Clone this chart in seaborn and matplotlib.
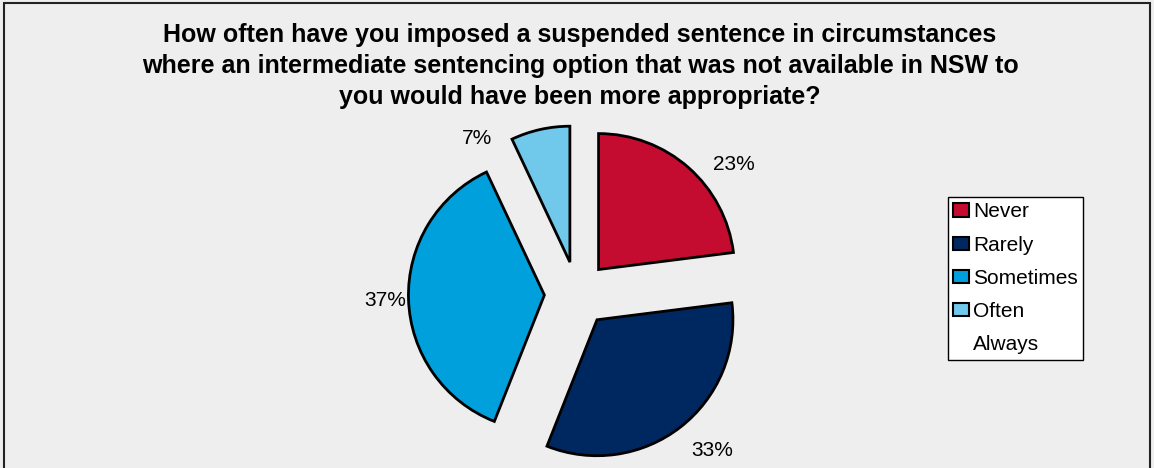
import matplotlib
matplotlib.use("Agg")
import numpy as np
import matplotlib.pyplot as plt
import matplotlib.patches as mpatches
import seaborn as sns

# data
categories = ["Never", "Rarely", "Sometimes", "Often", "Always"]
shares = [23, 33, 37, 7, 0]
colors = ["#C40C30", "#002860", "#00A0DC", "#70C8EA", "#FFFFFF"]
title = ("How often have you imposed a suspended sentence in circumstances\n"
         "where an intermediate sentencing option that was not available in NSW to\n"
         "you would have been more appropriate?")

sns.set_theme(style="white")
plt.rcParams['font.family'] = ['Liberation Sans', 'DejaVu Sans']

fig = plt.figure(figsize=(11.54, 4.68), dpi=100)
fig.patch.set_facecolor("#EEEEEE")

# outer border
fig.patches.append(mpatches.Rectangle((4 / 1154, -0.02), 1146 / 1154, 1 - 3 / 468 + 0.02,
                                      transform=fig.transFigure, fill=False,
                                      edgecolor="#222222", linewidth=1.5))

ax = fig.add_axes([403 / 1154, 0, 348 / 1154, 348 / 468])
ax.set_facecolor("#EEEEEE")

vals = [v for v in shares if v > 0]
cols = colors[:len(vals)]
wedges, texts = ax.pie(vals, colors=cols, startangle=90, counterclock=False,
                       explode=[0.24] * len(vals), radius=1,
                       labels=[f"{v}%" for v in vals], labeldistance=1.22,
                       wedgeprops=dict(edgecolor="black", linewidth=2),
                       textprops=dict(fontsize=15, color="black"))

# excel-like label placement: small angle nudges from the wedge middle
label_nudge = [(-9, 1.50), (3, 1.52), (0, 1.41), (20, 1.36)]
for w, t, (da, dist) in zip(wedges, texts, label_nudge):
    ang = np.deg2rad((w.theta1 + w.theta2) / 2 + da)
    t.set_position((dist * np.cos(ang), dist * np.sin(ang)))
    t.set_ha("center")
    t.set_va("center")

ax.set_xlim(-1.28, 1.28)
ax.set_ylim(-1.28, 1.28)
ax.set_aspect("equal")
ax.axis("off")

fig.text(580 / 1154, 0.951, title, ha="center", va="top", fontsize=18,
         fontweight="bold", linespacing=1.37, color="black")

handles = [mpatches.Patch(facecolor=c, edgecolor="black", linewidth=1.5) for c in cols]
handles.append(mpatches.Patch(facecolor="none", edgecolor="none"))
leg = fig.legend(handles, categories, loc="upper left",
                 bbox_to_anchor=(948 / 1154, 1 - 197 / 468), fontsize=15,
                 frameon=True, fancybox=False, framealpha=1, edgecolor="black",
                 handlelength=0.75, handleheight=0.6, handletextpad=0.2,
                 labelspacing=0.68, borderpad=0.26, borderaxespad=0)
leg.get_frame().set_linewidth(1.0)
for txt in leg.get_texts():
    txt.set_color("black")

fig.savefig("out.png", dpi=100, facecolor=fig.get_facecolor())
